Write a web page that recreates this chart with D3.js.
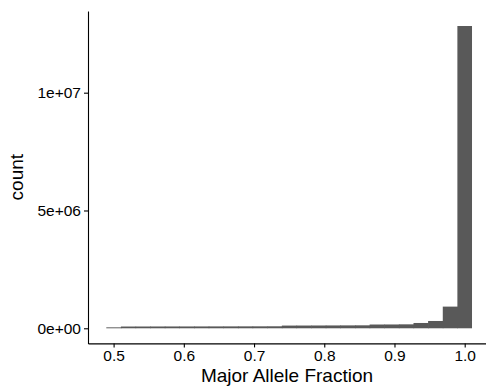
<!DOCTYPE html>
<html lang="en">
<head>
  <meta charset="UTF-8">
  <title>Major Allele Fraction histogram</title>
  <script src="https://d3js.org/d3.v7.min.js"></script>
  <style>
    body { margin: 0; background: #fff; }
    text { font-family: "Liberation Sans", Arial, sans-serif; fill: #000; }
    .tick text { font-size: 15.5px; }
    .axis-title { font-size: 19px; }
  </style>
</head>
<body>
<svg width="486" height="389"></svg>

<script>
  // bin centres (25 bins, Major Allele Fraction)
  const binCenters = [0.5000, 0.5208, 0.5417, 0.5625, 0.5833, 0.6042, 0.6250, 0.6458,
                      0.6667, 0.6875, 0.7083, 0.7292, 0.7500, 0.7708, 0.7917, 0.8125,
                      0.8333, 0.8542, 0.8750, 0.8958, 0.9167, 0.9375, 0.9583, 0.9792, 1.0000];
  const binWidth = 0.0208333;
  // counts per bin
  const counts = [40000, 75000, 76000, 77000, 78000, 78000, 79000, 80000,
                  81000, 82000, 83000, 85000, 115000, 117000, 119000, 121000,
                  123000, 126000, 160000, 162000, 168000, 225000, 310000, 920000, 12830000];

  const xTicks = [0.5, 0.6, 0.7, 0.8, 0.9, 1.0];
  const yTicks = [0, 5e6, 1e7];
  const yTickLabels = ["0e+00", "5e+06", "1e+07"];

  const svg = d3.select("svg");

  // ggplot-style 5% expansion of the data range
  const xmin = binCenters[0] - binWidth / 2;
  const xmax = binCenters[binCenters.length - 1] + binWidth / 2;
  const xpad = (xmax - xmin) * 0.05;
  const ymax = d3.max(counts);
  const ypad = ymax * 0.05;

  const panelLeft = 88, panelRight = 490.3, panelTop = 10.9, panelBottom = 343.4;

  const x = d3.scaleLinear()
          .domain([xmin - xpad, xmax + xpad])
          .range([panelLeft, panelRight]);

  const y = d3.scaleLinear()
          .domain([-ypad, ymax + ypad])
          .range([panelBottom, panelTop]);

  // bars (slightly widened so neighbouring bars leave no hairline gap)
  svg.selectAll(".bar")
          .data(counts)
          .enter()
          .append("rect")
          .attr("class", "bar")
          .attr("fill", "#595959")
          .attr("x", (d, i) => x(binCenters[i] - binWidth / 2))
          .attr("width", (d, i) => x(binCenters[i] + binWidth / 2) - x(binCenters[i] - binWidth / 2) + (i < counts.length - 1 ? 0.6 : 0))
          .attr("y", d => y(d))
          .attr("height", d => y(0) - y(d));

  // x axis
  const xAxis = svg.append("g")
          .attr("transform", `translate(0,${panelBottom})`)
          .call(d3.axisBottom(x).tickValues(xTicks).tickFormat(d3.format(".1f"))
                  .tickSizeInner(4).tickSizeOuter(0).tickPadding(3));
  xAxis.select(".domain").attr("stroke", "#000").attr("stroke-width", 1.1);
  xAxis.selectAll(".tick line").attr("stroke", "#000").attr("stroke-width", 1.1);

  // y axis
  const yAxis = svg.append("g")
          .attr("transform", `translate(${panelLeft},0)`)
          .call(d3.axisLeft(y).tickValues(yTicks).tickFormat((d, i) => yTickLabels[i])
                  .tickSizeInner(4).tickSizeOuter(0).tickPadding(3));
  yAxis.select(".domain").attr("stroke", "#000").attr("stroke-width", 1.1);
  yAxis.selectAll(".tick line").attr("stroke", "#000").attr("stroke-width", 1.1);

  // axis titles
  svg.append("text")
          .attr("class", "axis-title")
          .attr("x", (panelLeft + 486) / 2)
          .attr("y", 382)
          .attr("text-anchor", "middle")
          .text("Major Allele Fraction");

  svg.append("text")
          .attr("class", "axis-title")
          .attr("transform", `translate(23,${(panelTop + panelBottom) / 2}) rotate(-90)`)
          .attr("text-anchor", "middle")
          .text("count");
</script>
</body>
</html>
